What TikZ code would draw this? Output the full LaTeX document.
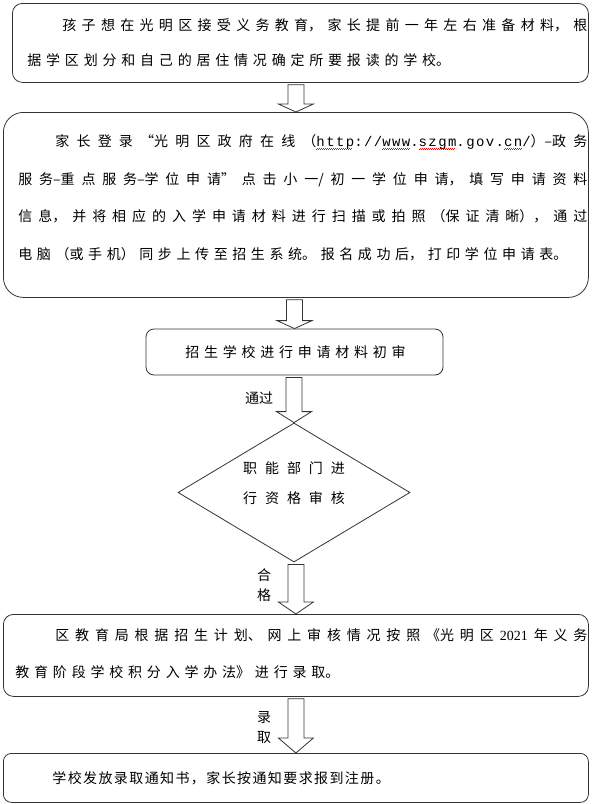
\documentclass[tikz,border=0pt]{standalone}
\usepackage{fontspec}
\usepackage{tikz}
\usetikzlibrary{shapes.geometric,positioning,calc}
\newfontfamily\cjk{Noto Sans CJK SC}
\newfontfamily\cjknarrow[LetterSpace=10]{Noto Sans CJK SC}
\newfontfamily\cjkmid[LetterSpace=34]{Noto Sans CJK SC}
\newfontfamily\cjkdiam[LetterSpace=57]{Noto Sans CJK SC}
\newfontfamily\urlfont[LetterSpace=10]{Liberation Mono}
\newfontfamily\numfont{Liberation Serif}
\XeTeXlinebreaklocale "zh"
\XeTeXlinebreakskip=0pt
% spacing between the characters of a paragraph
\newcommand{\charskip}[1]{\XeTeXlinebreakskip=#1\relax}
% red wavy spell-check line under a word
\newcommand{\spellmark}[1]{\setbox0=\hbox{#1}\leavevmode\rlap{\raisebox{-3pt}[0pt][0pt]{\textcolor{red}{\hbox to \wd0{\leaders\hbox{\rule{1pt}{0.5pt}\raisebox{0.7pt}{\rule{1pt}{0.5pt}}}\hfill}}}}\box0}
% paragraph inside a box: left pad, width, right pad, first indent
\newcommand{\boxpar}[5]{\hspace*{#1}\parbox{#2}{\noindent\hspace*{#4}#5}\hspace*{#3}}
% block arrow from the bottom of one node to the top of the next
\newcommand{\flowarrow}[3][10pt]{%
  \draw[blockarrow] let \p1=(#2.south), \p2=(#3.north) in
    (\x2-8pt,\y1-2pt) -- (\x2+8pt,\y1-2pt) -- (\x2+8pt,\y2+#1) -- (\x2+17.5pt,\y2+#1)
    -- (\x2,\y2) -- (\x2-17.5pt,\y2+#1) -- (\x2-8pt,\y2+#1) -- cycle;}

\begin{document}
\begin{tikzpicture}[x=1pt,y=-1pt,
    flowbox/.style={draw=black!80, line width=0.8pt, inner sep=0pt},
    parabox/.style={flowbox, anchor=north west},
    decision/.style={draw=black!80, line width=0.8pt, diamond, minimum width=232pt,
      minimum height=139pt, inner sep=0pt, align=left, text height=23pt,
      font=\cjkdiam\fontsize{14pt}{30pt}\selectfont},
    blockarrow/.style={draw=black!80, line width=0.8pt, fill=white, line join=miter},
    tag/.style={inner sep=0pt, align=center, font=\cjk\fontsize{14pt}{20pt}\selectfont}]
  \useasboundingbox (0,0) rectangle (600,804);

  \node[parabox, rounded corners=10pt, minimum width=576pt, minimum height=79pt,
    font=\cjk\fontsize{14pt}{35pt}\selectfont\charskip{4.8pt plus 2pt}] (choose) at (12,3)
    {\boxpar{15pt}{560pt}{1pt}{35pt}{孩子想在光明区接受义务教育，家长提前一年左右准备材料，根\linebreak
     据学区划分和自己的居住情况确定所要报读的学校。}};

  \node[parabox, rounded corners=20pt, minimum width=585pt, minimum height=185pt,
    font=\cjk\fontsize{14pt}{37.7pt}\selectfont\charskip{4.6pt plus 2pt}] (apply) at (3,112)
    {\boxpar{15pt}{569pt}{1pt}{37pt}{家长登录“光明区政府在线（{\urlfont\spellmark{http}://\spellmark{www}.\spellmark{szgm}.gov.\spellmark{cn}/}）–政务\linebreak
     服务–重点服务–学位申请”点击小一/初一学位申请，填写申请资料\linebreak
     信息，并将相应的入学申请材料进行扫描或拍照（保证清晰），通过\linebreak
     电脑（或手机）同步上传至招生系统。报名成功后，打印学位申请表。\par\vspace{14pt}}};

  \node[flowbox, rounded corners=8pt, minimum width=297pt, minimum height=46pt,
    font=\cjkmid\fontsize{14pt}{20pt}\selectfont] (review) at (294.5,352)
    {招生学校进行申请材料初审\hspace*{-2pt}};

  \node[decision] (check) at (294,492.5) {职能部门进\\行资格审核};

  \node[parabox, rounded corners=10pt, minimum width=585pt, minimum height=82pt,
    font=\cjk\fontsize{14pt}{37pt}\selectfont\charskip{4.8pt plus 2pt}] (admit) at (3,614)
    {\boxpar{12pt}{572pt}{1pt}{40pt}{区教育局根据招生计划、网上审核情况按照《光明区\kern6pt{\numfont 2021}\kern6pt 年义务\linebreak
     教育阶段学校积分入学办法》进行录取。\par\vspace{3pt}}};

  \node[parabox, rounded corners=8pt, minimum width=585pt, minimum height=49pt,
    font=\cjknarrow\fontsize{14pt}{20pt}\selectfont] (register) at (3,753)
    {\makebox[585pt][l]{\hspace*{49pt}学校发放录取通知书，家长按通知要求报到注册。}};

  \flowarrow[8pt]{choose}{apply}
  \flowarrow[8pt]{apply}{review}
  \flowarrow[11pt]{review}{check}
  \flowarrow[12pt]{check}{admit}
  \flowarrow[15pt]{admit}{register}

  \node[tag] (passtag) at (259,398) {通过};
  \node[tag] (qualtag) at (264,585) {合\\格};
  \node[tag] (admittag) at (264,728) {录\\取};
\end{tikzpicture}
\end{document}
